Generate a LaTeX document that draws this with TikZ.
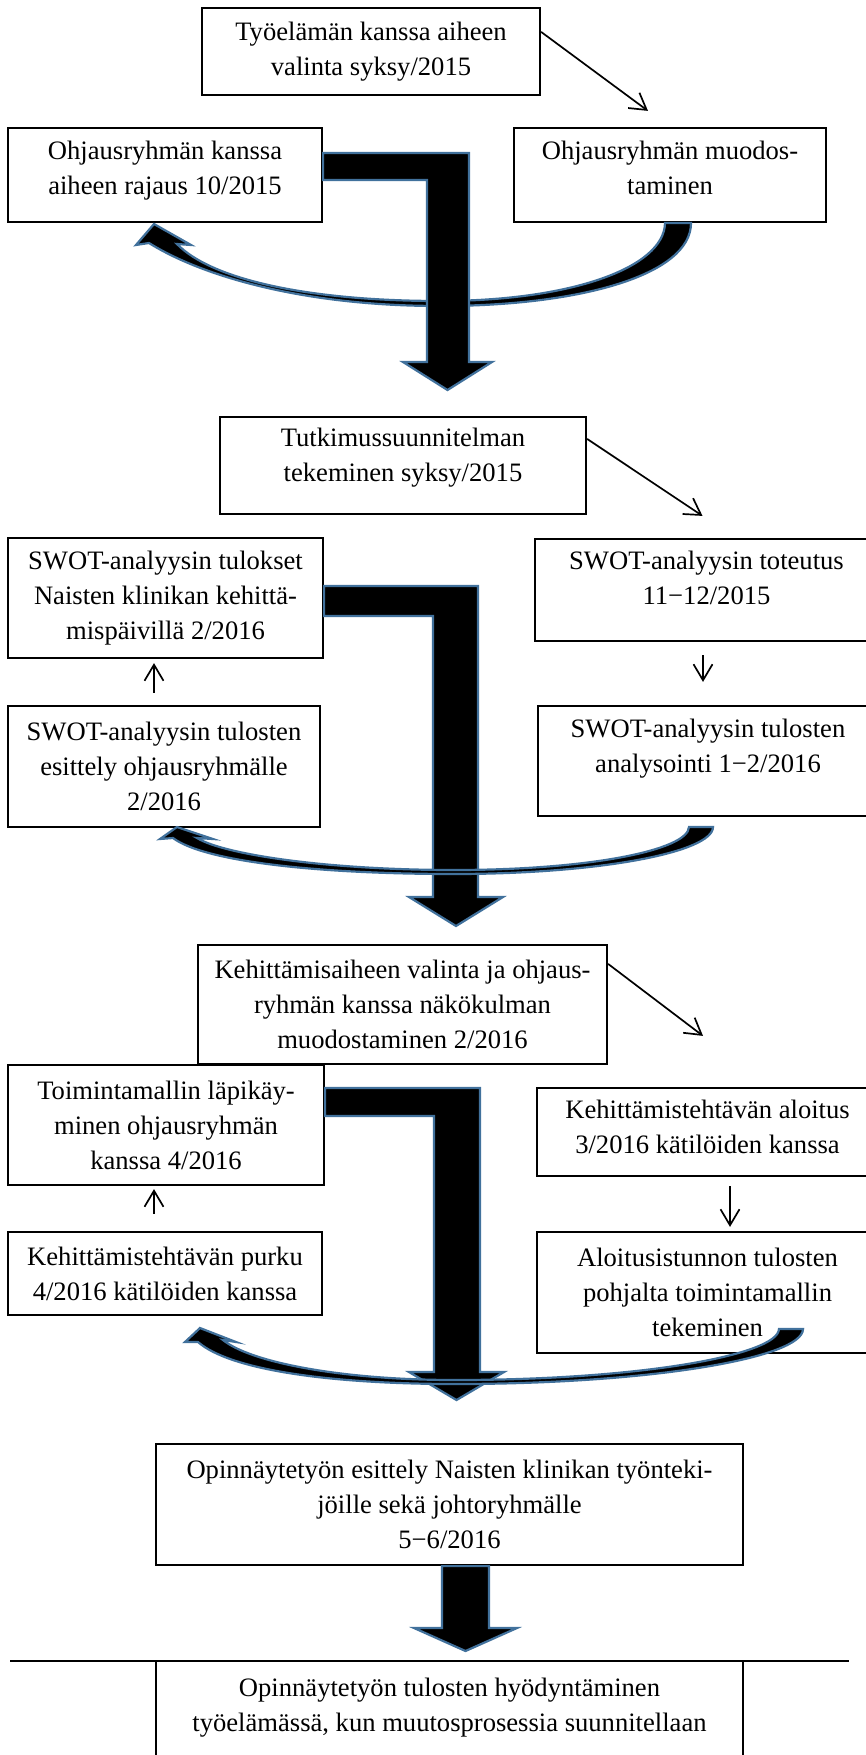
\documentclass[tikz,border=0pt]{standalone}
\usepackage{fontspec}
\setmainfont{Liberation Serif}
\usepackage{xcolor}
\usetikzlibrary{arrows.meta}
\definecolor{shapeblue}{RGB}{65,113,156}
\newcommand{\lowpad}[1]{\rule[-#1]{0pt}{#1}}

\begin{document}
\begin{tikzpicture}[
  x=0.5pt, y=-0.5pt,
  box/.style={
    draw,
    line width=1.1pt,
    align=center,
    inner sep=2pt,
    font=\fontsize{13.3}{17.5}\selectfont
  },
  link/.style={-{Straight Barb[length=8pt,width=9.5pt]}, line width=0.85pt},
  fat/.style={fill=black, draw=shapeblue, line width=1.1pt, line join=miter}
]
\useasboundingbox (0,0) rectangle (866,1755);

\node[box, minimum width=169pt, minimum height=43.5pt] (topic) at (371,51.5)
  {Työelämän kanssa aiheen\\valinta syksy/2015};
\node[box, minimum width=157pt, minimum height=47pt] (scope) at (165,175)
  {Ohjausryhmän kanssa\\aiheen rajaus 10/2015\lowpad{7.6pt}};
\node[box, minimum width=156pt, minimum height=47pt] (group) at (670,175)
  {Ohjausryhmän muodos-\\taminen\lowpad{7.6pt}};
\node[box, minimum width=183pt, minimum height=48.5pt] (plan) at (403,465.5)
  {Tutkimussuunnitelman\\tekeminen syksy/2015\lowpad{10.6pt}};
\node[box, minimum width=157.5pt, minimum height=60pt] (swotres) at (165.5,598)
  {SWOT-analyysin tulokset\\Naisten klinikan kehittä-\\mispäivillä 2/2016};
\node[box, minimum width=171.5pt, minimum height=51pt] (swotrun) at (706.5,590)
  {SWOT-analyysin toteutus\\11−12/2015\lowpad{12.6pt}};
\node[box, minimum width=170pt, minimum height=55pt] (swotana) at (708,761)
  {SWOT-analyysin tulosten\\analysointi 1−2/2016\lowpad{15.6pt}};
\node[box, minimum width=156pt, minimum height=60.5pt] (swotshow) at (164,766.5)
  {SWOT-analyysin tulosten\\esittely ohjausryhmälle\\2/2016};
\node[box, minimum width=204.5pt, minimum height=59.5pt] (view) at (402.5,1004.5)
  {Kehittämisaiheen valinta ja ohjaus-\\ryhmän kanssa näkökulman\\muodostaminen 2/2016};
\node[box, minimum width=158pt, minimum height=60pt] (review) at (166,1125)
  {Toimintamallin läpikäy-\\minen ohjausryhmän\\kanssa 4/2016};
\node[box, minimum width=170.5pt, minimum height=44pt] (kickoff) at (707.5,1132)
  {Kehittämistehtävän aloitus\\3/2016 kätilöiden kanssa\lowpad{5.6pt}};
\node[box, minimum width=170.5pt, minimum height=60.5pt] (model) at (707.5,1292.5)
  {Aloitusistunnon tulosten\\pohjalta toimintamallin\\tekeminen};
\node[box, minimum width=157pt, minimum height=41.5pt] (debrief) at (165,1273.5)
  {Kehittämistehtävän purku\\4/2016 kätilöiden kanssa};
\node[box, minimum width=293.5pt, minimum height=60.5pt] (present) at (449.5,1504.5)
  {Opinnäytetyön esittely Naisten klinikan työnteki-\\jöille sekä johtoryhmälle\\5−6/2016};
\node[box, minimum width=293.5pt, minimum height=48.5pt] (use) at (449.5,1709.5)
  {Opinnäytetyön tulosten hyödyntäminen\\työelämässä, kun muutosprosessia suunnitellaan\lowpad{5.1pt}};

\draw[line width=1.1pt] (10,1661) -- (849,1661);

\draw[link] ([yshift=-12.5pt]topic.north east) -- ([xshift=-11pt,yshift=8pt]group.north);
\draw[link] ([yshift=-11.5pt]plan.north east) -- ([xshift=-2pt,yshift=11pt]swotrun.north);
\draw[link] ([xshift=-1.75pt,yshift=-6.5pt]swotrun.south) -- ([xshift=-2.5pt,yshift=11.5pt]swotana.north);
\draw[link] ([xshift=-5pt,yshift=6pt]swotshow.north) -- ([xshift=-5.75pt,yshift=-2pt]swotres.south);
\draw[link] ([yshift=-10pt]view.north east) -- ([xshift=-2.25pt,yshift=25.5pt]kickoff.north);
\draw[link] ([xshift=11.25pt,yshift=-4.5pt]kickoff.south) -- ([xshift=11.25pt,yshift=2pt]model.north);
\draw[link] ([xshift=-5.5pt,yshift=8.5pt]debrief.north) -- ([xshift=-6pt,yshift=-1.5pt]review.south);

\draw[fat] (group.south -| 665,0) -- (group.south -| 691,0)
  .. controls (691,275) and (580,306) .. (440,306)
  .. controls (300,306) and (200,275) .. (149,243)
  -- (136,245) -- (154,224) -- (191,245) -- (177,244)
  .. controls (212,280) and (310,301) .. (440,301)
  .. controls (570,301) and (664,268) .. cycle;
\draw[fat] (scope.east |- 0,153) -- (469,153) -- (469,362) -- (492,362) -- (447.5,390)
  -- (403,362) -- (427,362) -- (427,180) -- (scope.east |- 0,180) -- cycle;

\draw[fat] (swotres.east |- 0,586) -- (478,586) -- (478,897) -- (503,897) -- (456,926)
  -- (409,897) -- (433,897) -- (433,616) -- (swotres.east |- 0,616) -- cycle;
\draw[fat] (689,827) -- (713,827)
  .. controls (713,852) and (600,874) .. (454,874)
  .. controls (320,874) and (205,862) .. (173,838)
  -- (160,839) -- (177,827) -- (213,839) -- (197,838)
  .. controls (225,855) and (330,870) .. (454,870)
  .. controls (590,870) and (688,850) .. cycle;

\draw[fat] (review.east |- 0,1088) -- (480,1088) -- (480,1372) -- (504,1372) -- (456.5,1400)
  -- (409,1372) -- (434,1372) -- (434,1116) -- (review.east |- 0,1116) -- cycle;
\draw[fat] (779,1329) -- (803,1329)
  .. controls (803,1358) and (650,1384) .. (455,1384)
  .. controls (330,1384) and (230,1370) .. (198,1342)
  -- (185,1342) -- (200,1328) -- (236,1342) -- (223,1340)
  .. controls (250,1362) and (340,1380) .. (455,1380)
  .. controls (640,1380) and (778,1355) .. cycle;

\draw[fat] (present.south -| 442,0) -- (442,1628) -- (414,1628) -- (465.5,1651)
  -- (517,1628) -- (489,1628) -- (present.south -| 489,0) -- cycle;
\end{tikzpicture}
\end{document}
